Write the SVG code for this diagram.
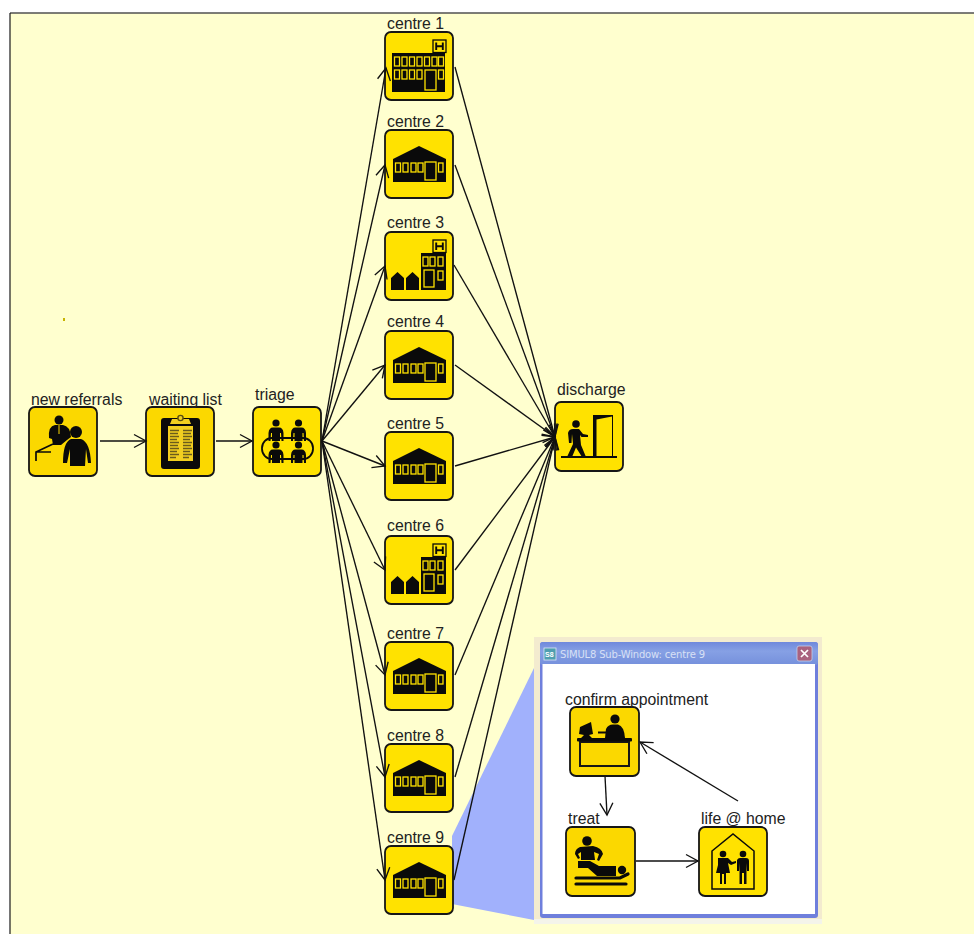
<svg xmlns="http://www.w3.org/2000/svg" xmlns:xlink="http://www.w3.org/1999/xlink" width="974" height="934" viewBox="0 0 974 934">
<style>
text{font-family:"Liberation Sans",Arial,sans-serif;font-size:15.800px;fill:#222}
.box{fill:#ffe200;stroke:#161616;stroke-width:1.8}
.boxd{fill:#fbd800;stroke:#161616;stroke-width:1.8}
.k{fill:#0a0a0a;stroke:none}
.w{fill:#0a0a0a;stroke:#ffe200;stroke-width:1.3}
.ol{fill:none;stroke:#0a0a0a;stroke-width:1.8}
.conn line{stroke:#111;stroke-width:1.35;marker-end:url(#arr)}
</style>
<defs>
<marker id="arr" markerUnits="userSpaceOnUse" markerWidth="18" markerHeight="18" refX="14" refY="9" orient="auto" viewBox="0 0 18 18">
<path d="M2,2.5 L14,9 L2,15.5" fill="none" stroke="#111" stroke-width="1.35"/>
</marker>
<g id="person">
<circle cx="0" cy="-10" r="3.600" class="k"/>
<path class="k" d="M-7.500,8 L-7.500,0 Q-7,-5.500 -3,-5.500 L3,-5.500 Q7,-5.500 7.500,0 L7.500,8 L5.500,8 L5,0 L4,0 L4,8 L-4,8 L-4,0 L-5,0 L-5.500,8Z"/>
</g>
<g id="house">
<rect class="box" x="0" y="0" width="68" height="68" rx="6"/>
<path class="k" d="M8,29 L34,16 L61,29 L61,52 L8,52Z"/>
<g class="w"><rect x="10.500" y="33" width="5" height="9"/><rect x="18" y="33" width="5" height="9"/><rect x="26" y="33" width="5" height="9"/><rect x="33" y="33" width="5" height="9"/><rect x="40" y="32" width="11" height="18"/><rect x="53.500" y="33" width="4.500" height="9"/></g>
</g>
<g id="hbadge">
<rect x="48" y="8" width="13" height="12.500" fill="#ffe200" stroke="#0a0a0a" stroke-width="1.300"/>
<path d="M51.200,10.500 V18 M57.800,10.500 V18 M51.200,14.200 H57.800" stroke="#0a0a0a" stroke-width="1.900" fill="none"/>
</g>
<g id="hospital">
<rect class="box" x="0" y="0" width="68" height="68" rx="6"/>
<use href="#hbadge"/>
<rect class="k" x="7" y="21" width="53" height="39"/>
<g class="w"><rect x="9.500" y="25" width="5" height="9"/><rect x="17" y="25" width="5" height="9"/><rect x="24.500" y="25" width="5" height="9"/><rect x="32" y="25" width="5" height="9"/><rect x="39.500" y="25" width="5" height="9"/><rect x="47" y="25" width="5" height="9"/><rect x="53.500" y="25" width="5" height="9"/>
<rect x="9.500" y="38" width="5" height="9"/><rect x="17" y="38" width="5" height="9"/><rect x="24.500" y="38" width="5" height="9"/><rect x="32" y="38" width="5" height="9"/><rect x="40" y="38" width="11" height="20"/><rect x="53.500" y="38" width="5" height="9"/></g>
</g>
<g id="hospital2">
<rect class="box" x="0" y="0" width="68" height="68" rx="6"/>
<use href="#hbadge"/>
<rect class="k" x="36" y="21" width="25" height="37"/>
<path class="k" d="M6,46 L12.500,40 L19,46 L19,58 L6,58Z M21,46 L27.500,40 L34,46 L34,58 L21,58Z"/>
<g class="w"><rect x="38" y="25" width="5" height="9"/><rect x="45" y="25" width="5" height="9"/><rect x="53" y="25" width="5" height="9"/><rect x="39" y="38" width="10" height="17"/><rect x="53" y="39" width="5" height="9"/></g>
</g>
<linearGradient id="bar" x1="0" y1="0" x2="0" y2="1"><stop offset="0" stop-color="#6f88dc"/><stop offset="0.4" stop-color="#86a0e4"/><stop offset="1" stop-color="#7590dc"/></linearGradient>
</defs>

<rect width="974" height="934" fill="#fff"/>
<rect x="10" y="13" width="964" height="921" fill="#ffffcf"/>
<path d="M10,13 H974" stroke="#505050" stroke-width="1.6" fill="none"/>
<path d="M10,13 V934" stroke="#1a1a1a" stroke-width="1.2" fill="none"/>
<rect x="63" y="318" width="2" height="3" fill="#c8b400"/>

<polygon id="zoom-wedge" points="452,836 534,668 534,920 452,904" fill="#a1b1fc"/>

<g id="nodes">
<g id="new-referrals"><rect class="boxd" x="29" y="407" width="68" height="69" rx="6"/>
<g transform="translate(29 407)">
<circle class="k" cx="30" cy="13" r="4.500"/>
<path class="k" d="M20,31 Q19,19 26,18 L34,18 Q41,19 42,30 L38,33 L32,38 L24,38 L23,32Z"/>
<path d="M30,18 V27" stroke="#fbd800" stroke-width="1" fill="none"/>
<path d="M7,54 L7,45 L24,37 M7,45 L22,45" stroke="#0a0a0a" stroke-width="1.700" fill="none"/>
<circle class="k" cx="47" cy="25" r="6"/>
<path class="k" d="M34,56 Q34,35 42,32 L52,32 Q61,35 62,56 L59,56 L57,42 L56,59 L41,59 L41,42 L38,56Z"/>
</g><text x="31" y="405">new referrals</text></g>

<g id="waiting-list"><rect class="boxd" x="146" y="407" width="68" height="69" rx="6"/>
<g transform="translate(146 407)">
<rect class="k" x="15" y="11" width="39" height="51" rx="3"/>
<rect x="22" y="19" width="25" height="35" fill="#f2cf20"/>
<path d="M26,12 H43 L45,17 H24Z" fill="#f2cf20"/><circle cx="34.500" cy="11" r="2.600" fill="#f2cf20" stroke="#5a4e10" stroke-width="1.400"/>
<path d="M24,23.500 H33 M24,26.500 H32 M24,29.500 H33 M24,32.500 H31 M24,35.500 H33 M24,38.500 H32 M24,41.500 H33 M24,44.500 H31 M24,47.500 H33 M24,50.500 H30 M37,23.500 H46 M37,26.500 H45 M37,29.500 H46 M37,32.500 H44 M37,35.500 H46 M37,38.500 H45 M37,41.500 H46 M37,44.500 H44 M37,47.500 H46 M37,50.500 H43" stroke="#6b5c1c" stroke-width="1.300" fill="none"/>
</g><text x="149" y="405">waiting list</text></g>

<g id="triage"><rect class="box" x="253" y="407" width="68" height="69" rx="6"/>
<g transform="translate(253 407)">
<use href="#person" x="23" y="26"/><use href="#person" x="45.500" y="26"/>
<rect class="ol" x="9" y="31" width="51" height="21" rx="10"/>
<use href="#person" x="23" y="48"/><use href="#person" x="45.500" y="48"/>
</g><text x="255" y="400">triage</text></g>

<g id="centre-1"><use href="#hospital" x="385" y="32"/><text x="387" y="29">centre 1</text></g>
<g id="centre-2"><use href="#house" x="385" y="130"/><text x="387" y="127">centre 2</text></g>
<g id="centre-3"><use href="#hospital2" x="385" y="232"/><text x="387" y="228">centre 3</text></g>
<g id="centre-4"><use href="#house" x="385" y="331"/><text x="387" y="327">centre 4</text></g>
<g id="centre-5"><use href="#house" x="385" y="432"/><text x="387" y="429">centre 5</text></g>
<g id="centre-6"><use href="#hospital2" x="385" y="536"/><text x="387" y="531">centre 6</text></g>
<g id="centre-7"><use href="#house" x="385" y="642"/><text x="387" y="639">centre 7</text></g>
<g id="centre-8"><use href="#house" x="385" y="744"/><text x="387" y="741">centre 8</text></g>
<g id="centre-9"><use href="#house" x="385" y="846"/><text x="387" y="843">centre 9</text></g>

<g id="discharge"><rect class="box" x="555" y="402" width="68" height="69" rx="6"/>
<g transform="translate(555 402)">
<path d="M6,55 H62" stroke="#0a0a0a" stroke-width="1.800"/>
<path class="k" d="M38,55 V13 H58 V55 H57 V14.500 L41.500,17.500 V55Z"/>
<circle class="k" cx="21" cy="22" r="3.800"/>
<path class="k" d="M14,41 L13,31 Q14,27 18,27 L24,27 L28,32 L33,33 L33,35 L26.500,35 L25,33 L26,43 L31,55 L27,55 L21,45.500 L17,55 L12,55 L18,42 L17,32 L16.500,41Z"/>
</g><text x="557" y="395">discharge</text></g>
</g>

<g id="connectors" class="conn">
<line x1="100" y1="441" x2="146" y2="441"/>
<line x1="216" y1="441" x2="252" y2="441"/>
<line x1="322" y1="441" x2="386" y2="68"/>
<line x1="322" y1="441" x2="385" y2="165"/>
<line x1="322" y1="441" x2="385" y2="266"/>
<line x1="322" y1="441" x2="385" y2="365"/>
<line x1="322" y1="441" x2="385" y2="466"/>
<line x1="322" y1="441" x2="385" y2="570"/>
<line x1="322" y1="441" x2="385" y2="675"/>
<line x1="322" y1="441" x2="385" y2="777"/>
<line x1="322" y1="441" x2="385" y2="880"/>
<line x1="455" y1="67" x2="555" y2="437"/>
<line x1="455" y1="165" x2="555" y2="437"/>
<line x1="454" y1="265" x2="555" y2="437"/>
<line x1="455" y1="365" x2="555" y2="437"/>
<line x1="455" y1="466" x2="555" y2="437"/>
<line x1="455" y1="570" x2="555" y2="437"/>
<line x1="455" y1="675" x2="555" y2="437"/>
<line x1="455" y1="777" x2="555" y2="437"/>
<line x1="454" y1="880" x2="555" y2="437"/>
</g>

<g id="sub-window">
<rect x="534" y="637" width="288" height="287" fill="#f3ebcf"/>
<rect x="534" y="919" width="288" height="5" fill="#f4f4ea"/>
<rect x="540" y="642" width="278" height="276" rx="3" fill="#6f7fdc"/>
<rect x="540" y="642" width="278" height="23" rx="3" fill="url(#bar)"/>
<rect x="542.500" y="664" width="272.500" height="250" fill="#fff"/>
<rect x="544" y="648" width="12" height="12" fill="#4f9fb0" stroke="#dfe8f5" stroke-width="0.800"/>
<text x="545" y="657" style="font-size:7px;font-weight:bold;fill:#fff">S8</text>
<text x="560" y="658" textLength="145" style="font-family:'DejaVu Sans',sans-serif;font-size:10px;fill:#d8e0f5">SIMUL8 Sub-Window: centre 9</text>
<rect x="797" y="646" width="15" height="15" rx="2" fill="#a9627f" stroke="#c4cfe9" stroke-width="0.800"/>
<path d="M801,650 L808,657 M808,650 L801,657" stroke="#fff" stroke-width="1.700" fill="none"/>

<g id="sub-connectors" class="conn">
<line x1="605" y1="776" x2="607" y2="815"/>
<line x1="636" y1="861" x2="698" y2="861"/>
<line x1="738" y1="801" x2="640" y2="742"/>
</g>

<g id="confirm-appointment"><rect class="boxd" x="570" y="707" width="69" height="69" rx="6"/>
<g transform="translate(570 707)">
<rect x="10" y="35" width="49" height="24" fill="none" stroke="#161616" stroke-width="2"/>
<rect class="k" x="7" y="31" width="55" height="3.500" rx="1"/>
<circle class="k" cx="45" cy="12" r="4.600"/>
<path class="k" d="M35,31 L36,22 Q38,17.500 43,17.500 L48,17.500 Q54,19 55,31Z"/>
<path d="M28,25.500 H38" stroke="#0a0a0a" stroke-width="2"/>
<path class="k" d="M10,20 L21,15 L23,27 L19,28 L22,31 L11,31 L14,28 L9,27Z"/>
</g><text x="565" y="705">confirm appointment</text></g>

<g id="treat"><rect class="boxd" x="566" y="827" width="69" height="69" rx="6"/>
<g transform="translate(566 827)">
<circle class="k" cx="21" cy="14" r="4.800"/>
<path class="k" d="M12,32 L9,27 Q9,22 14,20 L27,19 Q36,21 37,27 L33,34 L31,33 L33,27 L28,25 L29,33 L15,33 L15,25 L12,27 L14,31Z"/>
<path class="k" d="M12,34 H24 L33,39 L50,39 L50,49 L31,49 L22,41 H12Z"/>
<circle class="k" cx="56" cy="43" r="4.200"/>
<path d="M10,51 H54 L62,47 M10,57 H60" stroke="#0a0a0a" stroke-width="3.200" fill="none" stroke-linecap="round"/>
</g><text x="568" y="824">treat</text></g>

<g id="life-at-home"><rect class="box" x="699" y="827" width="68" height="69" rx="6"/>
<g transform="translate(699 827)">
<path class="ol" style="stroke-width:1.500" d="M13,24 L34,7 L55,24 V62 H13Z"/>
<circle class="k" cx="24" cy="27" r="3.300"/>
<path class="k" d="M19,31 H29 L33,35 L37,34 V36 L32,38 L29,36 L31,46 H27 V57 H25 V47 H23 V57 H21 V46 H17 L19,38Z"/>
<circle class="k" cx="44" cy="27" r="3.300"/>
<path class="k" d="M38,33 Q39,31 41,31 H47 Q50,31 50,34 V44 H48 L47.500,36 V57 H45 V46 H43 V57 H40.500 V36 L40,44 H38Z"/>
</g><text x="701" y="824">life @ home</text></g>
</g>
</svg>
